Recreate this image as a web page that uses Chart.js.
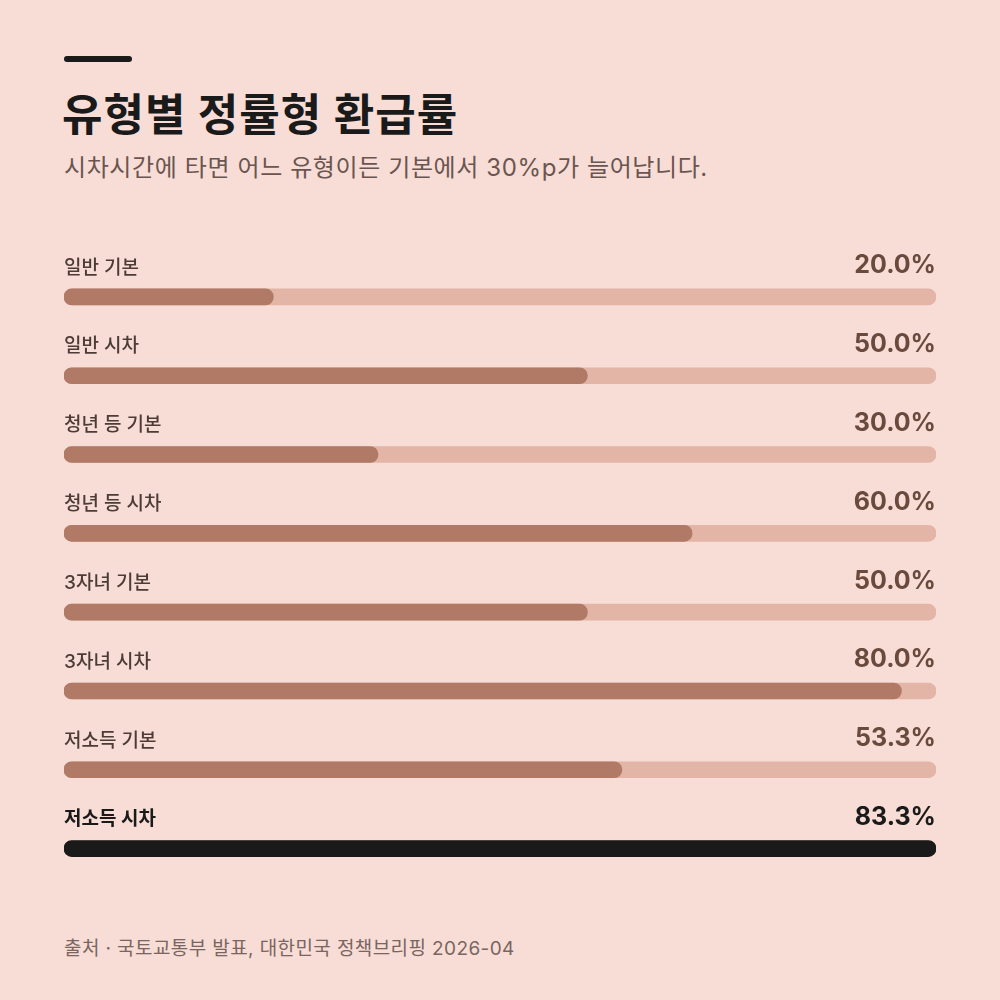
<!DOCTYPE html>
<html><head><meta charset="utf-8">
<script src="https://cdn.jsdelivr.net/npm/chart.js@4"></script>
<style>
html,body{margin:0;padding:0;background:#f7ddd6;width:1000px;height:1000px;overflow:hidden;font-family:Inter,"Noto Sans CJK KR","Noto Sans",sans-serif;}
#rule{position:absolute;left:64px;top:56px;width:68px;height:6px;background:#1a1a1a;border-radius:3px}
#title{position:absolute;left:62px;top:80px;font-size:44px;font-weight:700;color:#1a1a1a;letter-spacing:1px}
#sub{position:absolute;left:64px;top:148px;font-size:24px;color:#6b5550;letter-spacing:0.6px}
#src{position:absolute;left:64px;top:933px;font-size:19px;color:#7a6560;letter-spacing:0.4px}
#wrap{position:absolute;left:64px;top:228px;width:872px;height:660px}
</style></head><body>
<div id="rule"></div>
<div id="title">유형별 정률형 환급률</div>
<div id="sub">시차시간에 타면 어느 유형이든 기본에서 30%p가 늘어납니다.</div>
<div id="wrap"><canvas id="c"></canvas></div>
<div id="src">출처 · 국토교통부 발표, 대한민국 정책브리핑 2026-04</div>
<script>
const categories=["일반 기본","일반 시차","청년 등 기본","청년 등 시차","3자녀 기본","3자녀 시차","저소득 기본","저소득 시차"];
const values=[20.0,50.0,30.0,60.0,50.0,80.0,53.3,83.3];
const maxValue=83.3;
const last=categories.length-1;
const labelPlugin={id:'lbl',afterDatasetsDraw(chart){
 const ctx=chart.ctx,ys=chart.scales.y,a=chart.chartArea;
 categories.forEach((c,i)=>{
  const y=ys.getPixelForValue(i)-29;
  const hi=i===last;
  ctx.save();ctx.textBaseline='middle';
  ctx.font=(hi?'700 ':'500 ')+'19px Inter, "Noto Sans CJK KR"';
  ctx.fillStyle=hi?'#1a1a1a':'#4d3b36';ctx.textAlign='left';
  ctx.fillText(c,a.left,y);
  ctx.font='700 25px Inter, "Noto Sans CJK KR"';
  ctx.fillStyle=hi?'#1a1a1a':'#6b4a3e';ctx.textAlign='right';
  ctx.fillText(values[i].toFixed(1)+'%',a.right,y-2);
  ctx.restore();
 });
}};
new Chart(document.getElementById('c'),{type:'bar',
 data:{labels:categories,datasets:[
  {data:values,backgroundColor:values.map((v,i)=>i===last?'#1a1a1a':'#b07a66'),grouped:false,barThickness:16,borderRadius:8,borderSkipped:false,order:1},
  {data:categories.map(()=>maxValue),backgroundColor:'#e2b5a7',grouped:false,barThickness:16,borderRadius:8,borderSkipped:false,order:2}
 ]},
 options:{indexAxis:'y',responsive:true,maintainAspectRatio:false,animation:false,
  layout:{padding:{top:29.5,bottom:0,left:0,right:0}},
  plugins:{legend:{display:false},tooltip:{enabled:false}},
  scales:{x:{display:false,min:0,max:maxValue},y:{display:false}}},
 plugins:[labelPlugin]});
</script></body></html>
